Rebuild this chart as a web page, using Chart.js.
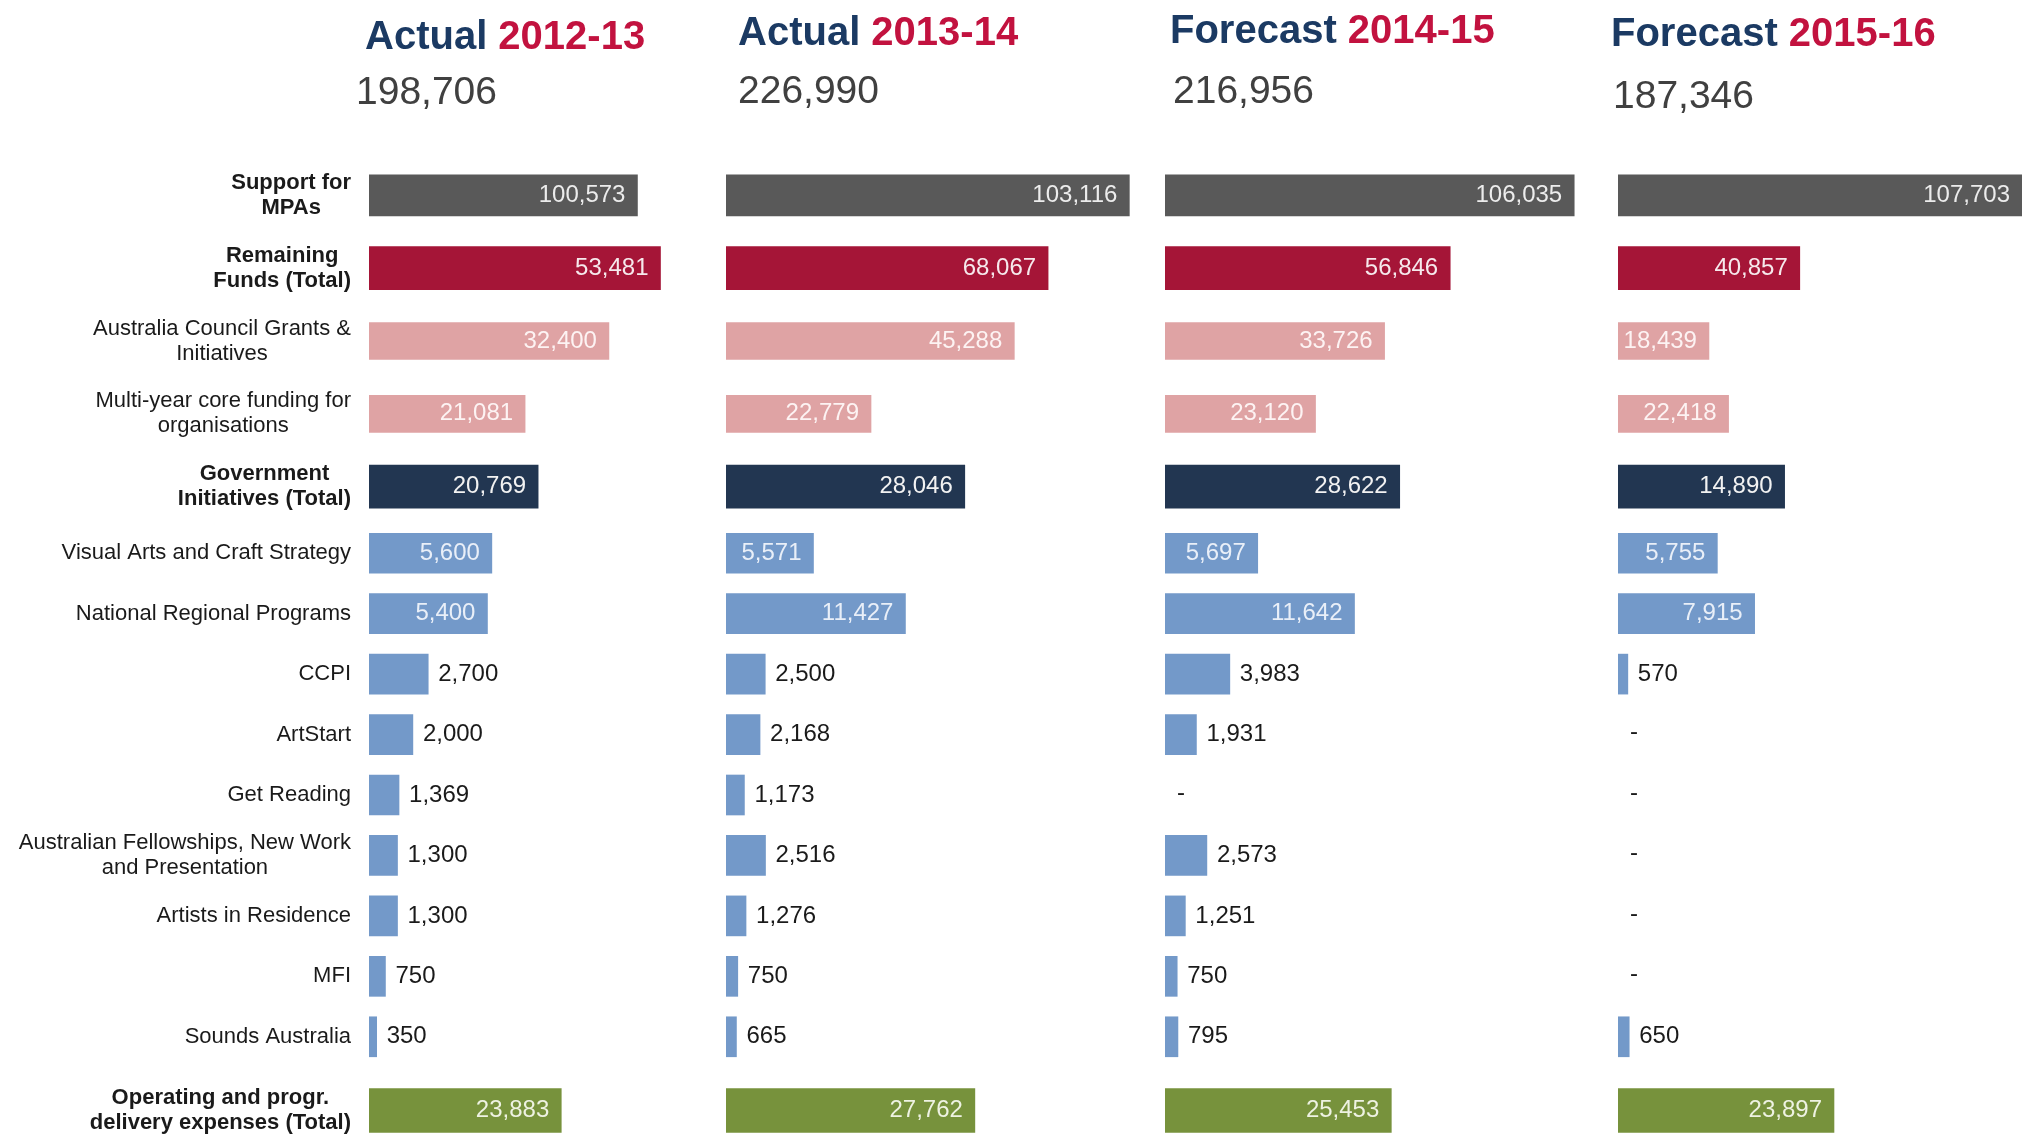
<!DOCTYPE html>
<html>
<head>
<meta charset="utf-8">
<script src="https://cdn.jsdelivr.net/npm/chart.js@4.4.1/dist/chart.umd.min.js"></script>
<style>
  html, body { margin: 0; padding: 0; background: #fff; width: 2022px; height: 1138px; overflow: hidden; }
  canvas { position: absolute; top: 0; }
  .head { position: absolute; white-space: nowrap; font-family: 'Liberation Sans', Arial, sans-serif; }
  .title { font-weight: bold; color: #1b3a63; font-size: 40px; line-height: 40px; }
  .title span { color: #c2123f; }
  .total { color: #404040; font-size: 39px; line-height: 39px; }
</style>
</head>
<body>
<canvas id="col0" width="720" height="1154" style="left:0px"></canvas>
<canvas id="col1" width="424" height="1154" style="left:726px"></canvas>
<canvas id="col2" width="433" height="1154" style="left:1165px"></canvas>
<canvas id="col3" width="404" height="1154" style="left:1618px"></canvas>
<script>
// row labels
const categories = [
  ['Support for', 'MPAs'],
  ['Remaining', 'Funds (Total)'],
  ['Australia Council Grants &', 'Initiatives'],
  ['Multi-year core funding for', 'organisations'],
  ['Government', 'Initiatives (Total)'],
  'Visual Arts and Craft Strategy',
  'National Regional Programs',
  'CCPI',
  'ArtStart',
  'Get Reading',
  ['Australian Fellowships, New Work', 'and Presentation'],
  'Artists in Residence',
  'MFI',
  'Sounds Australia',
  ['Operating and progr.', 'delivery expenses (Total)']
];
const rowGroups = ['support', 'remaining', 'council', 'council', 'government',
  'program', 'program', 'program', 'program', 'program', 'program', 'program', 'program', 'program',
  'operating'];

const periodKinds = ['Actual', 'Actual', 'Forecast', 'Forecast'];
const periods = ['2012-13', '2013-14', '2014-15', '2015-16'];
const totals = [198706, 226990, 216956, 187346];

// null = "-" in the source
const actual2012 = [100573, 53481, 32400, 21081, 20769, 5600, 5400, 2700, 2000, 1369, 1300, 1300, 750, 350, 23883];
const actual2013 = [103116, 68067, 45288, 22779, 28046, 5571, 11427, 2500, 2168, 1173, 2516, 1276, 750, 665, 27762];
const forecast2014 = [106035, 56846, 33726, 23120, 28622, 5697, 11642, 3983, 1931, null, 2573, 1251, 750, 795, 25453];
const forecast2015 = [107703, 40857, 18439, 22418, 14890, 5755, 7915, 570, null, null, null, null, null, 650, 23897];
const columns = [actual2012, actual2013, forecast2014, forecast2015];

// styling per group
const groupStyle = {
  support:    { color: '#595959', text: '#ececec', thickness: 41, axis: 'yTop' },
  remaining:  { color: '#a51537', text: '#f6e9ec', thickness: 43, axis: 'yTop' },
  council:    { color: '#dfa3a4', text: '#fdf3f3', thickness: 37, axis: 'yTop' },
  government: { color: '#223651', text: '#f2f2f2', thickness: 43, axis: 'yTop' },
  program:    { color: '#7399c9', text: '#e9eff8', thickness: 40, axis: 'yMid' },
  operating:  { color: '#77923c', text: '#eef2e2', thickness: 44, axis: 'yBot' }
};
const groupKeys = Object.keys(groupStyle);

// each group of rows has its own axis length in every column (the source is not to one scale)
const axisMax = [
  { support: 131500, remaining: 64400, council: 47400, government: 43100, program: 16000, operating: 43600 },
  { support: 108400, remaining: 89600, council: 66600, government: 49800, program: 27000, operating: 47300 },
  { support: 112200, remaining: 86300, council: 66500, government: 52800, program: 26600, operating: 48700 },
  { support: 105000, remaining: 90800, council: 81900, government: 36100, program: 23400, operating: 44700 }
];

const headPos = [
  { left: 365, titleTop: 15, totalLeft: 356, totalTop: 71 },
  { left: 738, titleTop: 11, totalLeft: 738, totalTop: 70 },
  { left: 1170, titleTop: 9, totalLeft: 1173, totalTop: 70 },
  { left: 1611, titleTop: 12, totalLeft: 1613, totalTop: 75 }
];

const fontFamily = "'Liberation Sans', Arial, sans-serif";

// rows belonging to each y axis
const axisRows = { yTop: [], yMid: [], yBot: [] };
rowGroups.forEach((g, i) => axisRows[groupStyle[g].axis].push(i));

function fmt(v) {
  return v.toLocaleString('en-US');
}

// headings above each column
periods.forEach((p, c) => {
  const t = document.createElement('div');
  t.className = 'head title';
  t.style.left = headPos[c].left + 'px';
  t.style.top = headPos[c].titleTop + 'px';
  t.innerHTML = periodKinds[c] + ' <span>' + p + '</span>';
  document.body.appendChild(t);
  const s = document.createElement('div');
  s.className = 'head total';
  s.style.left = headPos[c].totalLeft + 'px';
  s.style.top = headPos[c].totalTop + 'px';
  s.textContent = fmt(totals[c]);
  document.body.appendChild(s);
});

const valueLabels = {
  id: 'valueLabels',
  afterDatasetsDraw(chart) {
    const ctx = chart.ctx;
    const area = chart.chartArea;
    ctx.save();
    ctx.font = '24px ' + fontFamily;
    ctx.textBaseline = 'middle';
    chart.data.datasets.forEach((ds, i) => {
      const meta = chart.getDatasetMeta(i);
      const st = groupStyle[ds.group];
      ds.rows.forEach((row, j) => {
        if (rowGroups[row] !== ds.group) return;
        const v = ds.data[j];
        const xs = chart.scales[ds.xAxisID];
        const ys = chart.scales[ds.yAxisID];
        if (v === null) {
          ctx.fillStyle = '#1a1a1a';
          ctx.textAlign = 'center';
          ctx.fillText('-', xs.getPixelForValue(0) + 16, ys.getPixelForValue(j) - 2);
          return;
        }
        const el = meta.data[j];
        const end = Math.min(el.x, area.right);
        if (v >= 5000) {
          ctx.fillStyle = st.text;
          ctx.textAlign = 'right';
          ctx.fillText(fmt(v), end - 12, el.y);
        } else {
          ctx.fillStyle = '#1a1a1a';
          ctx.textAlign = 'left';
          ctx.fillText(fmt(v), end + 10, el.y);
        }
      });
    });
    ctx.restore();
  }
};

const rowLabels = {
  id: 'rowLabels',
  afterDraw(chart) {
    const ctx = chart.ctx;
    const right = chart.chartArea.left - 18;
    ctx.save();
    ctx.fillStyle = '#1a1a1a';
    ctx.textBaseline = 'middle';
    ctx.textAlign = 'center';
    categories.forEach((lab, row) => {
      const g = rowGroups[row];
      const axis = groupStyle[g].axis;
      const y = chart.scales[axis].getPixelForValue(axisRows[axis].indexOf(row));
      const lines = Array.isArray(lab) ? lab : [lab];
      const bold = g !== 'council' && g !== 'program';
      ctx.font = (bold ? 'bold ' : '') + '22px ' + fontFamily;
      const w = Math.max(...lines.map(l => ctx.measureText(l).width));
      const lh = 25;
      lines.forEach((l, k) => {
        ctx.fillText(l, right - w / 2, y + (k - (lines.length - 1) / 2) * lh);
      });
    });
    ctx.restore();
  }
};

function createChart(c) {
  const values = columns[c];
  const datasets = groupKeys.map(g => {
    const st = groupStyle[g];
    const rows = axisRows[st.axis];
    return {
      label: g,
      group: g,
      rows: rows,
      data: rows.map(r => rowGroups[r] === g ? values[r] : null),
      backgroundColor: st.color,
      barThickness: st.thickness,
      grouped: false,
      xAxisID: 'x_' + g,
      yAxisID: st.axis
    };
  });

  const scales = {};
  groupKeys.forEach(g => {
    scales['x_' + g] = { type: 'linear', position: 'bottom', display: false, min: 0, max: axisMax[c][g] };
  });
  const stackWeights = { yTop: 364, yMid: 544, yBot: 87 };
  const order = { yTop: 3, yMid: 2, yBot: 1 };
  Object.keys(axisRows).forEach(a => {
    scales[a] = {
      type: 'category',
      labels: axisRows[a].map(r => categories[r]),
      position: 'left',
      stack: 'rows',
      stackWeight: stackWeights[a],
      weight: order[a],
      offset: true,
      display: false
    };
  });

  const plugins = [valueLabels];
  if (c === 0) plugins.push(rowLabels);

  new Chart(document.getElementById('col' + c), {
    type: 'bar',
    data: { datasets: datasets },
    options: {
      indexAxis: 'y',
      responsive: false,
      animation: false,
      devicePixelRatio: 1,
      layout: { padding: { left: c === 0 ? 369 : 0, right: 0, top: 159, bottom: 0 } },
      scales: scales,
      plugins: { legend: { display: false }, tooltip: { enabled: false } }
    },
    plugins: plugins
  });
}

columns.forEach((col, c) => createChart(c));
</script>
</body>
</html>
